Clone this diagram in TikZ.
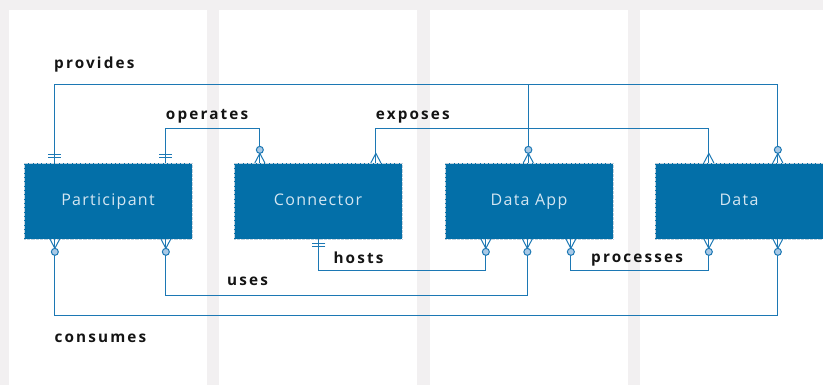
\documentclass[tikz,border=0pt]{standalone}
\usepackage{fontspec}
\setmainfont{Open Sans}
\newfontfamily\lblfont[LetterSpace=14]{Open Sans}
\newfontfamily\boxfont[LetterSpace=8]{Open Sans}
\usetikzlibrary{calc}
\definecolor{bggray}{HTML}{F2F0F1}
\definecolor{boxblue}{HTML}{036FA8}
\definecolor{boxtext}{HTML}{D4E6F2}
\definecolor{linkblue}{HTML}{1C78B4}
\definecolor{circfill}{HTML}{A9C9E6}
\definecolor{edgedot}{HTML}{C2D2DE}
\tikzset{
  entity/.style={fill=boxblue, draw=edgedot, densely dotted, line width=0.3pt,
    minimum width=168pt, minimum height=75.7pt, inner sep=0pt,
    text height=11pt, text depth=1.5pt,
    text=boxtext, font=\boxfont\fontsize{16}{19}\selectfont},
  link/.style={draw=linkblue, line width=1pt},
  rel/.style={inner sep=0pt, anchor=base west, text=black!92,
    font=\lblfont\bfseries\fontsize{15.3}{18}\selectfont},
  % crow's foot (many) pointing outward from a box edge at the origin
  pics/crow/.style={code={
    \draw[link, line join=miter] (-5,0) -- (0,-9.5) -- (5,0);
    \draw[link] (0,0) -- (0,-9.5);
  }},
  % zero or many: crow's foot with a circle
  pics/zmany/.style={code={
    \draw[link, line join=miter] (-5,0) -- (0,-9.5) -- (5,0);
    \draw[link] (0,0) -- (0,-9.5);
    \draw[link, fill=circfill] (0,-13) circle (3.5);
  }},
  % exactly one: double bar
  pics/one/.style={code={
    \draw[link] (-6.5,-5) -- (6.5,-5);
    \draw[link] (-6.5,-8) -- (6.5,-8);
  }},
}
\begin{document}
\begin{tikzpicture}[x=1pt,y=-1pt]
\useasboundingbox (0,0) rectangle (823,385);
% background lanes
\fill[bggray] (0,0) rectangle (823,385);
\fill[white] (9,10) rectangle (207,385);
\fill[white] (219,10) rectangle (417,385);
\fill[white] (430,10) rectangle (628,385);
\fill[white] (640,10) rectangle (823,385);

% entities
\node[entity] (part) at (108,200.85) {Participant};
\node[entity] (conn) at (318,200.85) {Connector};
\node[entity] (app)  at (529,200.85) {Data App};
\node[entity] (data) at (739,200.85) {Data};

% attachment points on the entity edges
\coordinate (pT1) at ($(part.north west)+(31,0)$);
\coordinate (pT2) at ($(part.north west)+(142,0)$);
\coordinate (pB1) at ($(part.south west)+(31,0)$);
\coordinate (pB2) at ($(part.south west)+(142,0)$);
\coordinate (cT1) at ($(conn.north west)+(26,0)$);
\coordinate (cT2) at ($(conn.north west)+(142,0)$);
\coordinate (cB)  at ($(conn.south west)+(85,0)$);
\coordinate (aT)  at ($(app.north west)+(83.5,0)$);
\coordinate (aB1) at ($(app.south west)+(41,0)$);
\coordinate (aB2) at ($(app.south west)+(82.5,0)$);
\coordinate (aB3) at ($(app.south west)+(126,0)$);
\coordinate (dT1) at ($(data.north west)+(54,0)$);
\coordinate (dT2) at ($(data.north west)+(123,0)$);
\coordinate (dB1) at ($(data.south west)+(54,0)$);
\coordinate (dB2) at ($(data.south west)+(123,0)$);

% relationships above the entities
\coordinate (pv) at ($(pT1)+(0,-78)$);
\draw[link] (pT1) -- (pv) -| (dT2);
\draw[link] (aT) -- (aT |- pv);
\draw[link] (pT2) -- ++(0,-34) -| (cT1);
\draw[link] (cT2) -- ++(0,-34) -| (dT1);

% relationships below the entities
\draw[link] (pB1) -- ++(0,77) -| (dB2);
\draw[link] (pB2) -- ++(0,56.6) -| (aB2);
\draw[link] (cB) -- ++(0,32) -| (aB1);
\draw[link] (aB3) -- ++(0,32) -| (dB1);

% cardinality markers
\pic at (pT1) {one};
\pic at (pT2) {one};
\pic at (cT1) {zmany};
\pic at (cT2) {crow};
\pic at (aT) {zmany};
\pic at (dT1) {crow};
\pic at (dT2) {zmany};
\pic[rotate=180] at (pB1) {zmany};
\pic[rotate=180] at (pB2) {zmany};
\pic[rotate=180] at (cB) {one};
\pic[rotate=180] at (aB1) {zmany};
\pic[rotate=180] at (aB2) {zmany};
\pic[rotate=180] at (aB3) {zmany};
\pic[rotate=180] at (dB1) {zmany};
\pic[rotate=180] at (dB2) {zmany};

% relationship names
\node[rel] (lprov) at (54,68.3) {provides};
\node[rel] (lop)   at (165.7,119.3) {operates};
\node[rel] (lexp)  at (375.7,119.3) {exposes};
\node[rel] (lhost) at (333.3,263.3) {hosts};
\node[rel] (luses) at (227,285.3) {uses};
\node[rel] (lproc) at (591,262.5) {processes};
\node[rel] (lcons) at (54.3,342.7) {consumes};
\end{tikzpicture}
\end{document}
